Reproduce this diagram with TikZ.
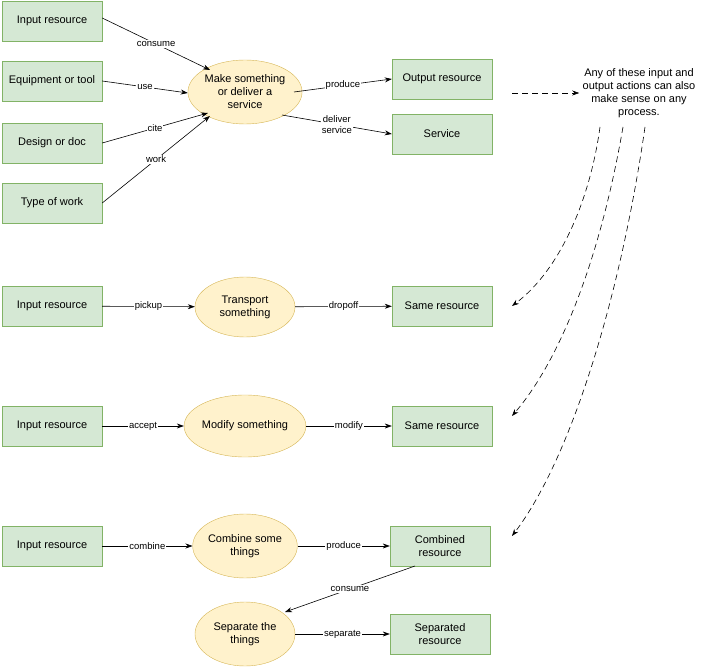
\documentclass[tikz,border=0pt]{standalone}
\usepackage{fontspec}
\setmainfont{Liberation Sans}
\usetikzlibrary{arrows.meta,shapes.geometric}
\definecolor{gf}{HTML}{D5E8D4}\definecolor{gs}{HTML}{82B366}
\definecolor{yf}{HTML}{FFF2CC}\definecolor{ys}{HTML}{D6B656}
\begin{document}
\begin{tikzpicture}[x=1pt,y=-1pt,
 box/.style={draw=gs,fill=gf,minimum width=100pt,minimum height=40pt,align=center,font=\fontsize{11}{13}\selectfont,inner sep=1pt},
 ell/.style={ellipse,draw=ys,fill=yf,minimum width=100pt,minimum height=62pt,align=center,font=\fontsize{11}{13}\selectfont,inner sep=0pt},
 ar/.style={-{Stealth[length=7pt,width=5pt]},line width=0.6pt},
 lb/.style={fill=white,inner sep=1pt,font=\fontsize{9.5}{11}\selectfont,align=center},
 da/.style={ar,dashed,dash pattern=on 6pt off 4pt}]
\useasboundingbox (0,0) rectangle (707,668);
\node[box] (i1) at (52,21) {Input resource};
\node[box] (eq) at (52,81) {Equipment or tool};
\node[box] (de) at (52,143) {Design or doc};
\node[box] (tw) at (52,203) {Type of work};
\node[ell,minimum height=64pt] (e1) at (245,92) {Make something\\or deliver a\\service};
\node[box] (out) at (442,79) {Output resource};
\node[box] (sv) at (442,134) {Service};
\node[font=\fontsize{11}{13}\selectfont,align=center] (note) at (639,93) {Any of these input and\\output actions can also\\make sense on any\\process.};
\draw[ar] (i1.east |- 0,18) -- node[lb,pos=0.5]{consume} (210,70);
\draw[ar] (eq.east) -- node[lb]{use} (e1.west |- 0,93);
\draw[ar] (de.east) -- node[lb]{cite} (208,113);
\draw[ar] (tw.east) -- node[lb]{work} (210,116);
\draw[ar] (294,92) -- node[lb]{produce} (out.west);
\draw[ar] (282,115) -- node[lb]{deliver\\service} (sv.west);
\coordinate (n1) at (512,93);
\draw[da] (n1) -- (note.west);
\node[box] (i2) at (52,306) {Input resource};
\node[ell,minimum height=60pt] (e2) at (245,307) {Transport\\something};
\node[box] (s2) at (442,306) {Same resource};
\draw[ar] (i2) -- node[lb]{pickup} (e2);
\draw[ar] (e2) -- node[lb]{dropoff} (s2);
\node[box] (i3) at (52,426) {Input resource};
\node[ell,minimum height=62pt] (e3) at (245,426) {Modify something};
\node[box] (s3) at (442,426) {Same resource};
\draw[ar] (i3) -- node[lb]{accept} (e3);
\draw[ar] (e3) -- node[lb]{modify} (s3);
\node[box] (i4) at (52,546) {Input resource};
\node[ell,minimum height=64pt] (e4) at (245,546) {Combine some\\things};
\node[box] (c4) at (440,546) {Combined\\resource};
\draw[ar] (i4) -- node[lb]{combine} (e4);
\draw[ar] (e4) -- node[lb]{produce} (c4);
\node[ell,minimum height=64pt] (e5) at (245,634) {Separate the\\things};
\node[box] (s5) at (440,634) {Separated\\resource};
\draw[ar] (415,566) -- node[lb]{consume} (285,612);
\draw[ar] (e5) -- node[lb]{separate} (s5);
\draw[da] (600,127) .. controls (590,200) and (560,270) .. (512,306);
\draw[da] (623,127) .. controls (600,260) and (560,360) .. (512,416);
\draw[da] (645,127) .. controls (620,300) and (570,460) .. (512,536);
\end{tikzpicture}
\end{document}
